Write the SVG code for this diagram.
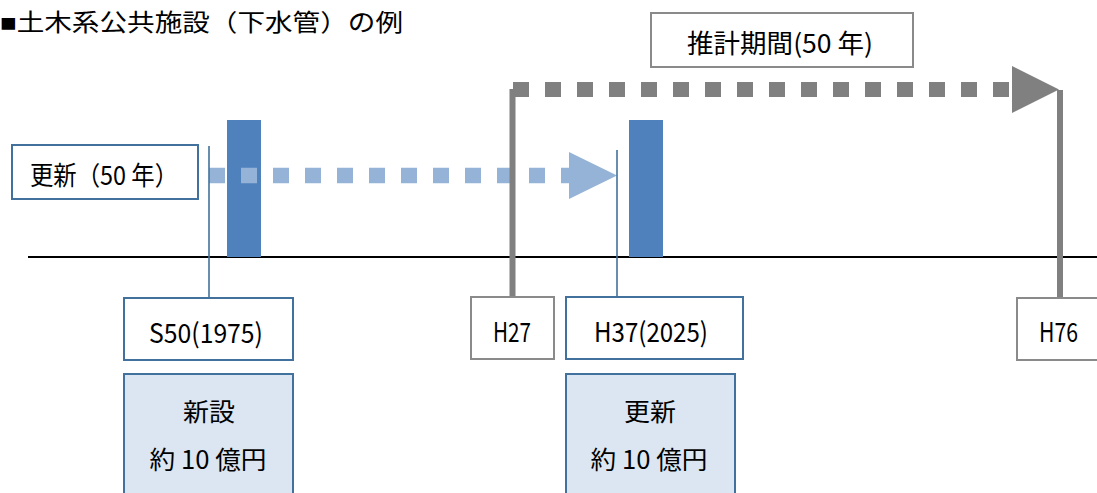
<svg xmlns="http://www.w3.org/2000/svg" width="1097" height="493" viewBox="0 0 1097 493">
<style>
.t{font-family:"Noto Sans CJK JP","Liberation Sans",sans-serif;fill:#000;text-anchor:middle}
.bx{fill:#fff;stroke:#41719c;stroke-width:2}
.gbx{fill:#fff;stroke:#8a8a8a;stroke-width:2}
.cost{fill:#dce6f2;stroke:#41719c;stroke-width:2}
.bar{fill:#4f81bd}
.thin{stroke:#41719c;stroke-width:1.6;fill:none}
.gline{stroke:#808080;stroke-width:6;fill:none}
</style>
<rect width="1097" height="493" fill="#fff"/>
<text x="0" y="31" font-family="'Liberation Serif','Noto Sans CJK JP',serif" font-size="24" textLength="403" lengthAdjust="spacingAndGlyphs">■土木系公共施設（下水管）の例</text>

<g id="axis"><line x1="28" y1="257" x2="1097" y2="257" stroke="#000" stroke-width="1.8"/></g>

<g id="bar-s50"><rect class="bar" x="227" y="120" width="34" height="137"/></g>
<g id="bar-h37"><rect class="bar" x="629" y="120" width="34" height="137"/></g>

<g id="connectors">
<line x1="209" y1="175.5" x2="569" y2="175.5" stroke="#95b3d7" stroke-width="15.5" stroke-dasharray="16 16"/>
<polygon points="569,152 617,175.5 569,199" fill="#95b3d7"/>
<line class="thin" x1="209" y1="146" x2="209" y2="297"/>
<line class="thin" x1="617" y1="150" x2="617" y2="297"/>
<line x1="513" y1="89.5" x2="1012" y2="89.5" stroke="#808080" stroke-width="15" stroke-dasharray="16 16"/>
<polygon points="1012,66 1059,89.5 1012,113" fill="#808080"/>
<line class="gline" x1="512.5" y1="89" x2="512.5" y2="297"/>
<line class="gline" x1="1060" y1="90" x2="1060" y2="297"/>
</g>

<g id="period"><rect class="gbx" x="651" y="13" width="262" height="54"/>
<text class="t" x="780" y="53" font-size="26" textLength="186" lengthAdjust="spacingAndGlyphs">推計期間(50 年)</text></g>

<g id="renewal-label"><rect class="bx" x="12" y="145" width="186" height="54"/>
<text class="t" x="104" y="185" font-size="26" textLength="148" lengthAdjust="spacingAndGlyphs">更新（50 年）</text></g>

<g id="s50"><rect class="bx" x="124" y="298" width="169" height="62"/>
<text class="t" x="206" y="343" font-size="27" textLength="114" lengthAdjust="spacingAndGlyphs">S50(1975)</text></g>

<g id="h27"><rect class="gbx" x="471" y="297" width="83" height="62"/>
<text class="t" x="512" y="342" font-size="27" textLength="38" lengthAdjust="spacingAndGlyphs">H27</text></g>

<g id="h37"><rect class="bx" x="566" y="297" width="177" height="62"/>
<text class="t" x="651" y="342" font-size="27" textLength="114" lengthAdjust="spacingAndGlyphs">H37(2025)</text></g>

<g id="h76"><rect class="gbx" x="1017" y="298" width="90" height="62"/>
<text class="t" x="1058.5" y="342" font-size="27" textLength="39" lengthAdjust="spacingAndGlyphs">H76</text></g>

<g id="new-cost"><rect class="cost" x="124" y="374" width="169" height="130"/>
<text class="t" x="209" y="421" font-size="25" textLength="52" lengthAdjust="spacingAndGlyphs">新設</text>
<text class="t" x="208" y="469" font-size="25" textLength="117" lengthAdjust="spacingAndGlyphs">約 10 億円</text></g>

<g id="renew-cost"><rect class="cost" x="566" y="374" width="169" height="130"/>
<text class="t" x="650" y="421" font-size="25" textLength="52" lengthAdjust="spacingAndGlyphs">更新</text>
<text class="t" x="649" y="469" font-size="25" textLength="117" lengthAdjust="spacingAndGlyphs">約 10 億円</text></g>
</svg>
